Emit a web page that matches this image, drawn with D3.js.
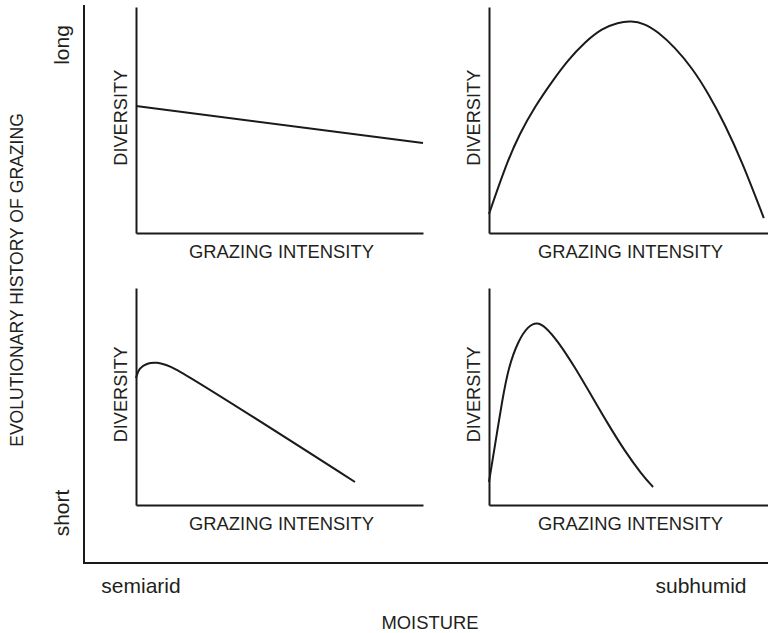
<!DOCTYPE html>
<html>
<head>
<meta charset="utf-8">
<script src="https://cdn.jsdelivr.net/npm/d3@7"></script>
<style>
  body { margin: 0; background: #fff; }
  text { font-family: "Liberation Sans", Arial, sans-serif; fill: #231f20; }
</style>
</head>
<body>
<svg id="chart" width="768" height="633"></svg>
<script>
// curves, x = grazing intensity (0..1), y = diversity (0..1)
const longSemiarid = [[0, 0.562], [1, 0.398]];
const longSubhumid = [
  [0, 0.084], [0.06, 0.3], [0.11, 0.44], [0.165, 0.56], [0.226, 0.67],
  [0.283, 0.765], [0.344, 0.845], [0.405, 0.905], [0.462, 0.932], [0.51, 0.938],
  [0.555, 0.928], [0.606, 0.89], [0.667, 0.82], [0.728, 0.73], [0.785, 0.62],
  [0.846, 0.48], [0.907, 0.315], [0.985, 0.066]
];
const shortSemiarid = [
  [0, 0.585], [0.014, 0.628], [0.038, 0.65], [0.073, 0.655], [0.105, 0.645],
  [0.14, 0.624], [0.763, 0.106]
];
const shortSubhumid = [
  [0, 0.106], [0.022, 0.28], [0.047, 0.48], [0.07, 0.635], [0.104, 0.755],
  [0.14, 0.825], [0.172, 0.843], [0.201, 0.823], [0.247, 0.755], [0.308, 0.635],
  [0.369, 0.5], [0.427, 0.372], [0.487, 0.248], [0.548, 0.14], [0.588, 0.083]
];

const historyLabels = ["long", "short"];
const moistureLabels = ["semiarid", "subhumid"];
const xTitle = "GRAZING INTENSITY";
const yTitle = "DIVERSITY";

const svg = d3.select("#chart");

// outer frame: moisture (x) vs evolutionary history (y)
const outerX = d3.scalePoint().domain(moistureLabels).range([141, 701]);
const outerY = d3.scalePoint().domain(historyLabels).range([45, 513]);

svg.append("path")
  .attr("d", "M84,5V563H768")
  .attr("fill", "none")
  .attr("stroke", "#1a1a1a")
  .attr("stroke-width", 2);

svg.selectAll("text.hist")
  .data(historyLabels)
  .enter()
  .append("text")
  .attr("class", "hist")
  .attr("transform", d => `translate(69,${outerY(d)}) rotate(-90)`)
  .attr("text-anchor", "middle")
  .attr("font-size", 21)
  .text(d => d);

svg.selectAll("text.moist")
  .data(moistureLabels)
  .enter()
  .append("text")
  .attr("class", "moist")
  .attr("x", d => outerX(d))
  .attr("y", 593)
  .attr("text-anchor", "middle")
  .attr("font-size", 21)
  .text(d => d);

svg.append("text")
  .attr("x", 430)
  .attr("y", 629)
  .attr("text-anchor", "middle")
  .attr("font-size", 18.4)
  .text("MOISTURE");

svg.append("text")
  .attr("transform", "translate(23,280) rotate(-90)")
  .attr("text-anchor", "middle")
  .attr("font-size", 17.6)
  .text("EVOLUTIONARY HISTORY OF GRAZING");

// four small panels
const panels = [
  {data: longSemiarid, x0: 136, x1: 423, top: 7, bottom: 233, curve: d3.curveLinear},
  {data: longSubhumid, x0: 489, x1: 768, top: 7, bottom: 233, curve: d3.curveBasis},
  {data: shortSemiarid, x0: 136, x1: 423, top: 288, bottom: 505, curve: d3.curveCatmullRom.alpha(0.5)},
  {data: shortSubhumid, x0: 489, x1: 768, top: 288, bottom: 505, curve: d3.curveBasis}
];

panels.forEach(p => {
  const x = d3.scaleLinear().domain([0, 1]).range([p.x0, p.x1]);
  const y = d3.scaleLinear().domain([0, 1]).range([p.bottom, p.top]);
  const g = svg.append("g");

  g.append("g")
    .attr("transform", `translate(0,${p.bottom})`)
    .call(d3.axisBottom(x).ticks(0).tickSizeOuter(0))
    .call(a => a.select(".domain").attr("stroke", "#1a1a1a").attr("stroke-width", 2));

  g.append("g")
    .attr("transform", `translate(${p.x0},0)`)
    .call(d3.axisLeft(y).ticks(0).tickSizeOuter(0))
    .call(a => a.select(".domain").attr("stroke", "#1a1a1a").attr("stroke-width", 2));

  const line = d3.line()
    .x(d => x(d[0]))
    .y(d => y(d[1]))
    .curve(p.curve);

  g.append("path")
    .datum(p.data)
    .attr("d", line)
    .attr("fill", "none")
    .attr("stroke", "#1a1a1a")
    .attr("stroke-width", 2);

  g.append("text")
    .attr("x", (p.x0 + p.x1) / 2 + 2)
    .attr("y", p.bottom + 25)
    .attr("text-anchor", "middle")
    .attr("font-size", 18.4)
    .text(xTitle);

  g.append("text")
    .attr("transform", `translate(${p.x0 - 9},${p.top + (p.bottom - p.top) * 0.49}) rotate(-90)`)
    .attr("text-anchor", "middle")
    .attr("font-size", 18.2)
    .text(yTitle);
});
</script>
</body>
</html>
